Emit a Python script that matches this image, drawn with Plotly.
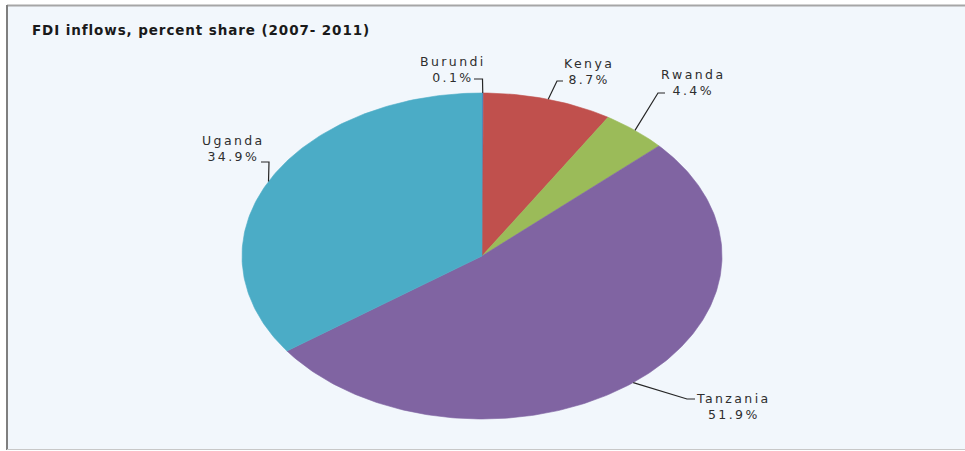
import numpy as np
import plotly.graph_objects as go

# FDI inflow shares, 2007-2011 (percent), clockwise from 12 o'clock
countries = ["Burundi", "Kenya", "Rwanda", "Tanzania", "Uganda"]
shares = [0.1, 8.7, 4.4, 51.9, 34.9]
colors = ["#4F81BD", "#C0504D", "#9BBB59", "#8064A2", "#4BACC6"]

W, H = 965, 451
# ellipse geometry in pixel space (axes are mapped 1:1 to pixels)
CX, CY, RX, RY = 482, 256, 240, 163

# label anchor (text centre) and elbow point of each leader line
label_pos = {
    "Burundi": (453, 69),
    "Kenya": (589, 71),
    "Rwanda": (693, 82),
    "Tanzania": (733, 406),
    "Uganda": (233, 148),
}
elbows = {
    "Burundi": [(474, 79), (482.5, 79)],
    "Kenya": [(563, 81), (557, 81)],
    "Rwanda": [(665, 93), (658, 93)],
    "Tanzania": [(695, 399), (687, 399)],
    "Uganda": [(261, 162), (269, 162)],
}


def pt(frac):
    a = 2 * np.pi * frac
    return CX + RX * np.sin(a), CY - RY * np.cos(a)


fig = go.Figure()

total = sum(shares)
cum = np.concatenate([[0], np.cumsum(shares)]) / total
for name, s, c, f0, f1 in zip(countries, shares, colors, cum[:-1], cum[1:]):
    n = max(4, int(400 * (f1 - f0)))
    fr = np.linspace(f0, f1, n)
    xs, ys = pt(fr)
    xs = np.concatenate([[CX], xs, [CX]])
    ys = np.concatenate([[CY], ys, [CY]])
    fig.add_trace(go.Scatter(
        x=xs, y=ys, mode="lines", fill="toself", fillcolor=c,
        line=dict(color=c, width=0.6), name=name, hoverinfo="text",
        text=f"{name}: {s}%", showlegend=False,
    ))

# leader lines from slice mid-points to the labels
for name, f0, f1 in zip(countries, cum[:-1], cum[1:]):
    mx, my = pt((f0 + f1) / 2)
    (ex0, ey0), (ex1, ey1) = elbows[name]
    fig.add_trace(go.Scatter(
        x=[ex0, ex1, mx], y=[ey0, ey1, my], mode="lines",
        line=dict(color="#262626", width=1.2), hoverinfo="skip",
        showlegend=False,
    ))

SP = '<span style="letter-spacing:2.4px">'
for name, s in zip(countries, shares):
    x, y = label_pos[name]
    fig.add_annotation(
        x=x, y=y, xref="x", yref="y", showarrow=False,
        text=f"{SP}{name}</span><br>{SP}{s:.1f}%</span>", align="center",
        font=dict(family="DejaVu Sans", size=12.5, color="#2E2E2E"),
    )

# frame: pale panel with grey top / left / bottom edges
fig.add_shape(type="rect", xref="x", yref="y", x0=7, y0=5, x1=W + 2, y1=449.5,
              fillcolor="#F2F7FC", line=dict(width=0), layer="below")
fig.add_shape(type="line", xref="x", yref="y", x0=7, y0=5.5, x1=W + 2, y1=5.5,
              line=dict(color="#A6A6A6", width=2))
fig.add_shape(type="line", xref="x", yref="y", x0=7, y0=5, x1=7, y1=450,
              line=dict(color="#7F7F7F", width=2))
fig.add_shape(type="line", xref="x", yref="y", x0=7, y0=449.5, x1=W + 2, y1=449.5,
              line=dict(color="#C8C8C8", width=1))

fig.add_annotation(
    x=30, y=30, xref="x", yref="y", xanchor="left", showarrow=False,
    text='<span style="letter-spacing:0.9px"><b>FDI inflows, percent share (2007- 2011)</b></span>',
    font=dict(family="DejaVu Sans", size=13.5, color="#1A1A1A"),
)

fig.update_xaxes(range=[0, W], visible=False, fixedrange=True)
fig.update_yaxes(range=[H, 0], visible=False, fixedrange=True)
fig.update_layout(
    width=W, height=H, margin=dict(l=0, r=0, t=0, b=0),
    paper_bgcolor="white", plot_bgcolor="white",
)

fig.write_html("out.html")
